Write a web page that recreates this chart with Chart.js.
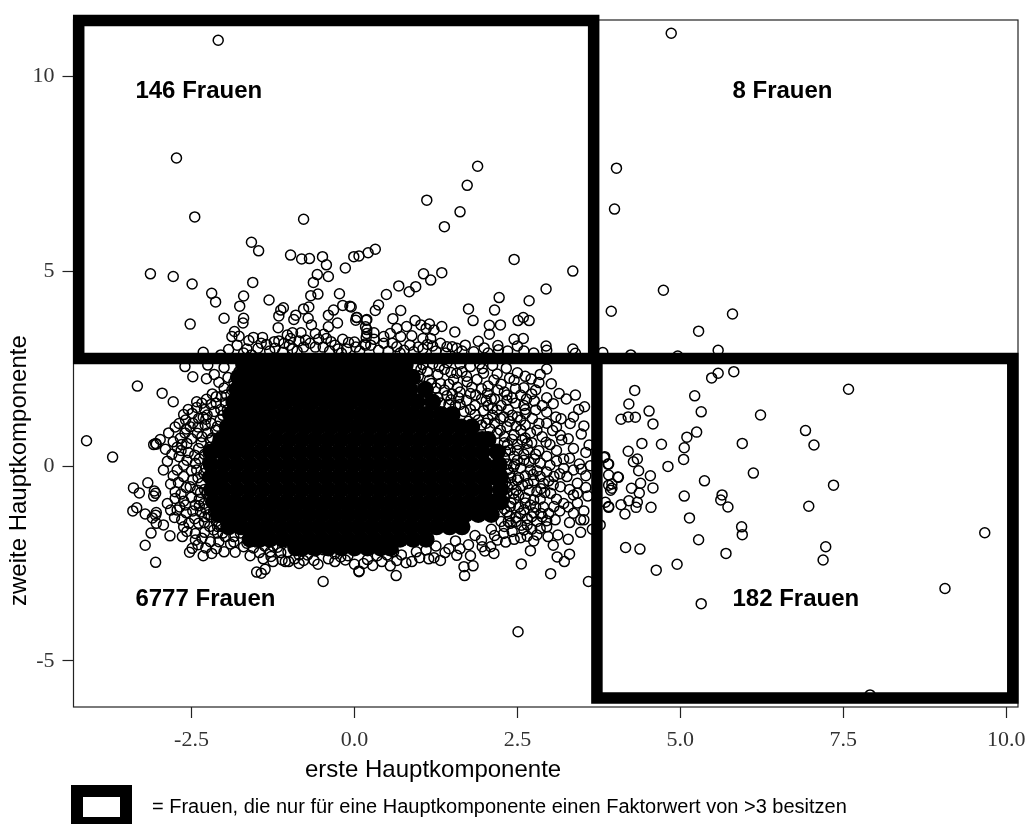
<!DOCTYPE html>
<html>
<head>
<meta charset="utf-8">
<title>Hauptkomponenten</title>
<script src="https://cdn.jsdelivr.net/npm/chart.js@4/dist/chart.umd.min.js"></script>
<style>
  html, body { margin: 0; padding: 0; background: #fff; overflow: hidden; }
  canvas { display: block; }
</style>
</head>
<body>
<canvas id="chart" width="1028" height="824"></canvas>
<script>
const xTicks = [-2.5, 0, 2.5, 5, 7.5, 10];
const yTicks = [-5, 0, 5, 10];

// sichtbare Einzelpunkte
const upperLeftPoints = [
  [-2.09,10.92],[-2.73,7.90],[-2.45,6.39],[-0.78,6.33],[-1.58,5.74],[-1.47,5.52],[-0.98,5.41],[-0.81,5.31],[-0.69,5.32],
  [-0.49,5.37],[-0.43,5.16],[-0.14,5.08],[-0.01,5.37],[0.07,5.39],[0.21,5.47],[0.32,5.56],[-3.13,4.93],[-2.78,4.86],
  [-2.49,4.67],[-2.19,4.43],[-2.13,4.21],[-1.56,4.71],[-0.57,4.91],[-0.40,4.86],[-0.63,4.71],[-1.70,4.36],[-1.76,4.10],
  [-1.31,4.26],[-0.67,4.37],[-0.56,4.41],[-0.23,4.42],[-2.52,3.64],[-2.00,3.79],[-1.70,3.79],[-1.71,3.67],[-1.84,3.45],
  [-1.88,3.32],[-1.77,3.33],[-1.55,3.30],[-1.41,3.30],[-1.43,3.15],[-1.17,3.55],[-1.16,3.85],[-1.13,4.00],[-1.09,4.06],
  [-0.90,3.87],[-0.93,3.76],[-0.78,4.03],[-0.70,4.08],[-0.71,3.79],[-0.66,3.62],[-0.82,3.42],[-0.47,3.38],[-0.43,3.27],
  [-0.36,3.19],[-0.40,3.87],[-0.32,4.00],[-0.40,3.57],[-0.26,3.67],[-0.18,4.12],[-0.07,4.10],[0.02,3.74],[0.04,3.81],
  [-0.09,3.17],[-1.03,3.36],[-1.23,3.19],[-1.16,3.21],[-1.08,3.15],[-0.98,3.27],[-0.75,3.23],[-0.85,3.21],[0.17,3.57],
  [0.18,3.74],[0.19,3.40],[0.17,3.10],[-1.93,2.99],[-2.32,2.92],[1.11,6.82],[1.62,6.52],[1.38,6.14],[1.89,7.69],[1.73,7.20],
  [2.45,5.30],[3.35,5.00],[2.94,4.54],[1.06,4.93],[1.17,4.77],[1.34,4.96],[0.68,4.62],[0.84,4.47],[0.94,4.60],[0.49,4.40],
  [0.37,4.13],[0.32,3.99],[0.71,3.99],[0.59,3.78],[-0.05,4.08],[0.03,3.81],[0.19,3.76],[0.19,3.50],[0.18,3.30],[0.16,3.13],
  [0.65,3.53],[0.55,3.40],[0.71,3.32],[0.80,3.58],[0.93,3.73],[1.02,3.62],[1.15,3.64],[1.10,3.53],[1.22,3.49],[1.34,3.58],
  [0.88,3.34],[1.05,3.27],[1.17,3.27],[1.54,3.44],[1.75,4.03],[1.82,3.73],[2.22,4.32],[2.15,4.00],[2.68,4.24],[2.59,3.81],
  [2.51,3.73],[2.68,3.73],[2.07,3.61],[2.24,3.62],[2.07,3.38],[2.59,3.27],[2.50,3.08],[1.99,3.03],[2.20,3.09],[2.21,2.98],
  [2.94,3.08],[2.95,2.97],[3.35,3.00],[3.39,2.89],[1.42,3.06],[1.50,3.06],[1.57,3.02],[1.32,3.15],[1.20,3.08],[1.83,2.93],
  [0.91,2.93],[0.45,3.15],[0.58,3.15],[0.65,3.06],[0.76,2.97],[0.37,2.97],[-0.60,3.05],[-0.25,3.00],[0.02,3.05],[-1.30,2.95],
  [-1.65,3.00],[-0.95,3.00],[1.05,3.00],[1.65,2.95],[2.60,2.95],
  [-1.80,3.10],[-1.62,3.22],[-1.48,3.02],[-1.35,3.12],[-1.22,3.02],[-1.10,2.92],[-1.00,3.10],[-0.88,2.95],[-0.78,3.05],
  [-0.68,3.15],[-0.55,3.25],[-0.48,3.05],[-0.38,2.95],[-0.30,3.10],[-0.18,3.25],[-0.12,3.00],[0.00,3.18],[0.08,2.95],
  [0.25,3.10],[0.30,3.25],[0.45,3.32],[0.52,2.95],[0.85,3.10],[0.98,3.05],[1.12,3.12],[1.25,2.95],[1.40,2.90],[1.70,3.10],
  [1.90,3.20],[2.05,2.90],[2.35,2.95],[2.45,3.25],[2.75,2.90],[-1.70,2.90],[-1.58,2.85],[-2.05,2.85],[-0.20,2.90],[0.70,2.90],
  [-0.95,3.42],[-0.60,3.40],[0.30,3.42]
];

const upperRightPoints = [
  [4.86,11.10],[4.02,7.64],[3.99,6.59],[4.74,4.51],[5.28,3.46],[5.80,3.90],[3.94,3.97],[3.81,2.91],[4.24,2.85],
  [4.96,2.82],[5.58,2.97]
];

const lowerRightPoints = [
  [5.82,2.42],[5.58,2.38],[5.48,2.26],[4.30,1.94],[7.58,1.97],[5.22,1.80],[4.21,1.59],[4.52,1.41],[5.32,1.39],[6.23,1.31],
  [4.09,1.20],[4.20,1.26],[4.31,1.25],[4.58,1.08],[6.92,0.91],[5.25,0.87],[5.10,0.74],[7.05,0.54],[5.95,0.58],[4.41,0.58],
  [4.71,0.56],[5.06,0.47],[4.20,0.38],[5.05,0.17],[4.34,0.18],[4.28,0.11],[3.89,0.05],[3.83,0.22],[4.81,-0.01],[4.36,-0.12],
  [6.12,-0.18],[4.05,-0.29],[4.54,-0.25],[3.90,-0.23],[5.37,-0.38],[7.35,-0.49],[4.39,-0.44],[4.58,-0.56],[4.25,-0.57],
  [3.95,-0.46],[3.93,-0.62],[4.37,-0.69],[5.06,-0.77],[5.64,-0.74],[5.62,-0.87],[5.73,-1.05],[6.97,-1.03],[4.21,-0.89],
  [4.34,-0.93],[4.32,-1.06],[4.09,-0.99],[3.90,-1.06],[3.85,-0.93],[4.55,-1.06],[4.15,-1.23],[5.14,-1.33],[5.94,-1.56],
  [5.95,-1.76],[9.67,-1.71],[5.28,-1.89],[7.23,-2.07],[7.19,-2.41],[4.16,-2.09],[4.38,-2.13],[5.70,-2.24],[4.95,-2.52],
  [4.63,-2.67],[9.06,-3.14],[5.32,-3.53],[7.91,-5.87],[3.77,-1.51]
];

const lowerLeftPoints = [
  [2.51,-4.25],[3.59,-2.96],[3.01,-2.76],[2.56,-2.51],[3.22,-2.45],[3.11,-2.33],[3.30,-2.26],[2.70,-2.17],[2.14,-2.24],
  [3.05,-2.03],[3.28,-1.88],[2.55,-1.84],[1.68,-2.58],[1.82,-2.56],[1.69,-2.81],[0.64,-2.81],[0.07,-2.71],[0.55,-2.56],
  [0.79,-2.48],[1.14,-2.38],[1.39,-2.22],[1.57,-2.29],[2.95,2.49],[2.50,2.39],[2.33,2.51],[2.19,2.36],[2.38,2.25],[2.71,2.23],
  [3.02,2.11],[2.83,2.14],[2.60,2.01],[2.47,1.99],[2.78,1.95],[3.14,1.86],[3.39,1.82],[2.95,1.75],[3.25,1.72],[3.53,1.52],
  [3.44,1.45],[2.64,1.72],[2.76,1.67],[2.47,1.61],[3.09,1.26],[3.17,1.21],[3.36,1.26],[3.31,1.09],[3.52,1.03],[3.48,0.82],
  [3.04,0.91],[3.16,0.79],[2.94,0.61],[3.18,0.67],[3.36,0.45],[2.83,0.39],[3.10,0.13],[3.21,0.18],[3.21,-0.06],[3.48,-0.08],
  [3.36,-0.10],[3.60,0.54],[3.62,0.01],[3.84,0.24],[3.90,0.05],[4.04,-0.28],[3.90,-0.49],[3.95,-0.57],[3.58,-0.77],[3.36,-0.74],
  [3.42,-0.70],[3.52,-1.15],[3.90,-1.04],[3.47,-1.38],[3.52,-1.38],[3.47,-1.70],[3.36,-1.21],[3.30,-1.45],[3.65,-1.62],
  [3.12,-1.77],[2.95,-1.56],[2.97,-1.81],[2.80,-1.77],[2.65,-1.51],[3.08,-1.38],[3.21,-0.96],[3.06,-1.04],[2.88,-1.30],
  [3.16,-0.53],[3.01,-0.70],[2.85,-0.27],[3.06,-0.27],[3.26,-0.27],[3.42,-0.44],[2.70,-0.10],[2.50,-0.36],[2.44,-0.70],
  [2.39,-1.04],[2.75,-0.87],[2.80,-0.66],[2.60,-1.64],[2.39,-1.47],[2.29,-1.73],[2.19,-1.90],[2.09,-2.07],[1.96,-2.07],
  [2.57,0.67],[2.39,0.41],[2.50,0.15],[2.44,-0.02],[2.65,0.58],[2.80,0.92],[2.55,0.92],[2.83,1.09],[2.73,1.22],[2.78,1.44],
  [2.50,1.26],[2.34,1.69],[2.19,1.44],[2.29,1.26],[2.34,1.01],[2.19,0.84],[2.04,1.86],[1.78,1.86],[1.73,2.16],[1.98,2.38],
  [2.14,2.21],[1.78,2.55],[1.57,2.38],[1.30,2.55],[1.05,2.60],[1.45,2.10],[1.15,2.20],[1.60,1.75],[1.85,1.55],[2.05,1.20],
  [-4.11,0.65],[-3.71,0.23],[-3.33,2.05],[-2.95,1.87],[-2.78,1.65],[-2.60,2.55],[-2.48,2.29],[-2.27,2.24],[-2.25,2.59],
  [-2.00,2.53],[-1.94,2.27],[-1.77,2.42],[-1.60,2.38],[-2.98,0.68],[-3.05,0.58],[-3.08,0.55],[-3.04,0.56],[-2.90,0.43],
  [-2.87,0.12],[-2.93,-0.10],[-3.17,-0.43],[-3.39,-0.56],[-3.30,-0.69],[-3.07,-0.64],[-3.05,-0.70],[-3.08,-0.77],[-2.82,-0.46],
  [-2.87,-0.96],[-3.34,-1.07],[-3.40,-1.15],[-3.21,-1.23],[-3.04,-1.19],[-3.10,-1.33],[-3.05,-1.26],[-3.04,-1.47],[-2.93,-1.51],
  [-3.12,-1.72],[-2.83,-1.79],[-3.21,-2.03],[-3.05,-2.47],[-2.64,-1.81],[-2.62,-1.56],[-2.54,-1.47],[-2.57,-1.68],[-2.44,-1.73],
  [-2.39,-1.47],[-2.34,-1.85],[-2.44,-1.90],[-2.49,-2.11],[-2.53,-2.21],[-2.32,-2.30],[-2.19,-2.24],[-2.21,-1.94],[-2.16,-1.64],
  [-2.08,-1.94],[-2.00,-2.20],[-1.83,-2.21],[-1.70,-2.07],[-1.60,-2.30],[-1.46,-2.22],[-1.50,-2.72],[-1.43,-2.75],[-1.37,-2.65],
  [-1.06,-2.45],[-1.01,-2.45],[-1.11,-2.41],[-0.85,-2.50],[-0.56,-2.52],[-0.48,-2.96],[0.07,-2.69],[-0.14,-2.41],[-0.21,-2.33],
  [0.14,-2.50],[-0.47,-2.15],[-0.85,-2.28],[-1.29,-2.20],[-1.13,-2.22],[-2.69,1.09],[-2.59,1.18],[-2.49,1.35],[-2.42,1.65],
  [-2.27,1.71],[-2.34,1.61],[-2.12,1.61],[-2.04,1.79],[-2.26,1.31],[-2.39,1.22],[-2.52,1.01],[-2.29,1.05],[-2.13,0.92],[-2.41,0.84],
  [-2.67,0.71],[-2.57,0.58],[-2.72,0.48],[-2.69,0.24],[-2.72,-0.10],[-2.57,0.15],[-2.62,-0.27],[-2.44,0.07],[-2.39,0.45],[-2.21,0.67],
  [-2.06,1.18],[-1.95,1.44],[-2.75,-0.66],[-2.75,-0.83],[-2.82,-1.13],[-2.72,-1.13],[-2.59,-1.00],[-2.44,-1.00],[-2.52,-0.53],
  [-2.41,-0.62],[-2.31,-0.19],[-2.26,-0.70],[-2.31,-0.96],[-1.98,-1.81],[-1.85,-1.81],[-2.20,-1.30],[-2.05,-1.55],[-1.75,-1.72],
  [-1.50,-1.95],[-1.25,-2.05],[-0.65,-2.15],[0.35,-2.30],[0.95,-2.20],[1.25,-2.05],[1.55,-1.92],[1.85,-1.78],[2.10,-1.62]
];

// Ringe am Rand des Kerns, geschaetzt: links, rechts, unten, oben rechts
const leftEdgePoints = [
  [-2.85,0.85],[-2.78,0.62],[-2.80,0.30],[-2.66,0.40],[-2.60,0.85],[-2.50,0.70],[-2.45,0.28],[-2.35,0.60],[-2.30,0.30],[-2.25,0.85],
  [-2.62,0.02],[-2.50,-0.12],[-2.40,-0.30],[-2.78,-0.25],[-2.70,-0.42],[-2.58,-0.55],[-2.48,-0.35],[-2.35,-0.45],[-2.28,-0.05],
  [-2.66,-0.72],[-2.62,-0.90],[-2.50,-0.80],[-2.38,-0.85],[-2.30,-0.60],[-2.68,-1.05],[-2.58,-1.20],[-2.48,-1.15],[-2.36,-1.18],
  [-2.28,-1.10],[-2.76,-1.32],[-2.65,-1.38],[-2.45,-1.35],[-2.30,-1.45],[-2.22,-1.55],[-2.12,-1.42],[-2.10,-1.72],[-2.30,-1.70],
  [-1.95,-1.60],[-1.90,-2.00],[-2.40,-2.02],[-2.28,-2.10],[-2.12,-2.12],[-2.40,1.00],[-2.32,1.25],[-2.20,1.10],[-2.15,1.40],
  [-2.30,1.45],[-2.05,1.45],[-1.98,1.62],[-2.18,1.85],[-2.00,2.00],[-2.08,2.15],[-1.88,1.95],[-1.85,2.15],[-2.15,2.35],[-2.55,1.45],
  [-2.62,1.32],[-2.48,1.10],[-2.75,1.00],[-2.58,0.95],[-2.42,1.50],[-1.90,1.30],[-2.00,0.80],[-2.12,0.55],[-2.18,0.30],[-2.20,1.58],
  [-2.65,0.55],[-2.55,0.35],
  [-2.38,0.18],[-2.25,0.10],[-2.42,-0.10],[-2.26,-0.28],[-2.36,-0.68],[-2.22,-0.85],[-2.24,-1.25],[-2.38,-1.02],[-2.16,-1.18],[-2.10,-1.55],
  [-2.34,0.75],[-2.18,0.72],[-2.10,1.02],[-2.28,1.20],[-2.02,1.30],[-2.12,1.78],[-1.96,1.82],[-2.22,0.48],[-2.30,-1.30],[-2.02,-1.72]
];

const rightEdgePoints = [
  [2.25,2.10],[2.45,2.20],[2.62,2.30],[2.85,2.35],[2.05,2.05],[2.30,1.90],[2.55,1.82],[2.72,1.85],[2.15,1.72],[2.42,1.75],[2.60,1.55],
  [2.88,1.55],[3.05,1.60],[2.25,1.55],[2.05,1.55],[2.95,1.38],[2.62,1.35],[2.42,1.30],[2.15,1.10],[2.38,1.15],[2.62,1.05],[2.95,1.10],
  [3.10,1.00],[2.70,0.85],[2.45,0.80],[2.30,0.75],[2.88,0.75],[3.00,0.55],[2.72,0.60],[2.50,0.55],[2.35,0.55],[2.78,0.30],[2.60,0.30],
  [2.45,0.25],[2.30,0.20],[2.95,0.25],[2.68,0.10],[2.85,0.08],[3.00,0.02],[2.55,-0.05],[2.35,-0.10],[2.80,-0.12],[2.95,-0.15],[3.15,-0.20],
  [2.62,-0.25],[2.40,-0.30],[2.75,-0.38],[2.90,-0.45],[3.05,-0.48],[2.58,-0.50],[2.35,-0.55],[2.48,-0.62],[2.68,-0.62],[2.92,-0.68],
  [3.10,-0.85],[2.85,-0.85],[2.62,-0.82],[2.45,-0.85],[2.30,-0.80],[2.70,-1.00],[2.90,-1.05],[2.52,-1.05],[2.30,-1.10],[3.15,-1.15],
  [2.98,-1.22],[2.75,-1.20],[2.55,-1.22],[2.38,-1.28],[2.80,-1.42],[2.65,-1.35],[2.48,-1.42],[2.95,-1.40],[2.25,-1.42],[2.72,-1.62],
  [2.85,-1.60],[2.42,-1.68],[2.30,-1.55],[2.15,-1.78],[2.65,-1.80],[2.45,-1.88],[2.32,-1.95],[2.75,-1.92],[3.30,-0.60],[3.28,-1.05],
  [3.42,-0.95],[3.55,-0.55],[3.55,-0.25],[3.30,0.20],[3.45,0.05],[3.10,0.40],[3.55,0.35],[3.28,0.70],
  [2.38,-0.18],[2.32,-0.42],[2.42,-0.48],[2.52,-0.30],[2.66,-0.45],[2.74,-0.22],[2.86,-0.58],[2.98,-0.38],[2.34,-0.68],[2.52,-0.75],
  [2.62,-0.95],[2.78,-1.05],[2.40,-0.95],[2.34,-1.18],[2.48,-1.32],[2.60,-1.12],[2.86,-1.22],[2.72,-1.30],[2.56,-1.52],[2.36,-1.42],
  [2.34,0.05],[2.46,0.05],[2.60,0.15],[2.76,0.18],[2.32,0.38],[2.50,0.40],[2.66,0.42],[2.30,0.60],[2.42,0.68],[2.62,0.72],
  [2.24,0.92],[2.48,1.02],[2.24,1.22],[2.55,1.18],[2.12,1.30],[2.36,1.45],[2.62,1.45],[2.12,1.48],[2.34,1.82],[2.20,1.95]
];

const bottomEdgePoints = [
  [-1.85,-1.95],[-1.65,-1.98],[-1.55,-2.10],[-1.38,-2.05],[-1.28,-2.32],[-1.18,-2.08],[-1.02,-2.20],[-0.92,-2.38],[-0.78,-2.42],
  [-0.72,-2.28],[-0.62,-2.42],[-0.40,-2.38],[-0.30,-2.25],[-0.10,-2.30],[0.00,-2.52],[0.20,-2.40],[0.28,-2.55],[0.42,-2.45],[0.50,-2.28],
  [0.65,-2.42],[0.72,-2.28],[0.88,-2.45],[1.00,-2.35],[1.10,-2.15],[1.22,-2.35],[1.32,-2.42],[1.45,-2.12],[1.62,-2.12],[1.75,-2.02],
  [1.95,-1.90],[2.00,-2.18],[-1.25,-2.45],[-1.40,-2.38],[-0.30,-2.45],[0.60,-2.20],[1.78,-2.30]
];

const upperEdgePoints = [
  [0.95,2.55],[1.20,2.62],[1.42,2.65],[1.62,2.62],[1.92,2.62],[2.12,2.58],[0.98,2.30],[1.12,2.42],[1.28,2.35],[1.38,2.48],[1.52,2.22],
  [1.65,2.42],[1.88,2.22],[1.05,2.05],[1.25,2.00],[1.38,1.95],[1.58,2.02],[1.80,2.02],[1.95,1.98],[1.28,1.75],[1.42,1.80],[1.55,1.55],
  [1.72,1.68],[1.95,1.72],[1.68,1.40],[1.85,1.32],[1.98,1.42],[1.75,1.15],[1.95,1.05],[2.08,0.95],[2.10,1.72],[1.50,1.85],
  [1.02,2.48],[1.18,2.12],[1.32,2.12],[1.48,2.40],[1.32,1.62],[1.45,1.58],[1.62,1.90],[1.62,1.58],[1.78,1.45],[1.90,1.18],
  [1.86,1.82],[2.02,1.68],[1.72,2.30],[1.96,2.50],[1.48,1.70],[2.02,1.10]
];

// dichter Kern: Reihen (y) und Spalten (x), geschaetzt
const coreRowY = [2.60, 2.28, 1.96, 1.64, 1.32, 1.00, 0.68, 0.36, 0.04, -0.28, -0.60, -0.92, -1.24, -1.56, -1.88, -2.10];
const coreRowX = [
  [-1.70,-1.56,-1.35,-1.15,-0.96,-0.76,-0.55,-0.35,-0.16,0.05,0.25,0.44,0.64,0.78],
  [-1.78,-1.62,-1.46,-1.27,-1.06,-0.86,-0.66,-0.45,-0.26,-0.06,0.15,0.35,0.54,0.75,0.89],
  [-1.80,-1.68,-1.55,-1.34,-1.15,-0.95,-0.74,-0.55,-0.35,-0.15,0.06,0.25,0.45,0.66,0.85,1.09],
  [-1.85,-1.70,-1.55,-1.40,-1.25,-1.05,-0.84,-0.65,-0.44,-0.25,-0.05,0.16,0.35,0.55,0.75,0.96,1.20],
  [-1.90,-1.74,-1.55,-1.40,-1.31,-1.10,-0.90,-0.70,-0.50,-0.30,-0.11,0.10,0.30,0.50,0.70,0.89,1.10,1.32,1.50],
  [-1.95,-1.80,-1.66,-1.50,-1.36,-1.16,-0.96,-0.76,-0.56,-0.36,-0.16,0.04,0.24,0.44,0.64,0.84,1.04,1.24,1.44,1.64,1.80],
  [-2.05,-1.90,-1.76,-1.60,-1.40,-1.20,-1.00,-0.80,-0.60,-0.40,-0.20,0.00,0.20,0.40,0.60,0.80,1.00,1.20,1.40,1.60,1.80,1.96,2.05],
  [-2.20,-2.02,-1.84,-1.64,-1.44,-1.24,-1.04,-0.84,-0.64,-0.44,-0.24,-0.04,0.16,0.36,0.56,0.76,0.96,1.16,1.36,1.56,1.76,1.96,2.19],
  [-2.20,-2.00,-1.80,-1.60,-1.40,-1.20,-1.00,-0.80,-0.60,-0.40,-0.20,0.00,0.20,0.40,0.60,0.80,1.00,1.20,1.40,1.60,1.80,2.00,2.22],
  [-2.20,-2.04,-1.84,-1.64,-1.44,-1.24,-1.04,-0.84,-0.64,-0.44,-0.24,-0.04,0.16,0.36,0.56,0.76,0.96,1.16,1.36,1.56,1.76,1.96,2.14,2.24],
  [-2.19,-2.00,-1.80,-1.60,-1.40,-1.20,-1.00,-0.80,-0.60,-0.40,-0.20,0.00,0.20,0.40,0.60,0.80,1.00,1.20,1.40,1.60,1.80,2.00,2.24],
  [-2.16,-1.98,-1.84,-1.64,-1.44,-1.24,-1.04,-0.84,-0.64,-0.44,-0.24,-0.04,0.16,0.36,0.56,0.76,0.96,1.16,1.36,1.56,1.76,1.96,2.14,2.24],
  [-2.09,-1.90,-1.70,-1.50,-1.30,-1.10,-0.90,-0.70,-0.50,-0.30,-0.10,0.10,0.30,0.50,0.70,0.90,1.10,1.30,1.50,1.70,1.90,2.10],
  [-1.93,-1.74,-1.54,-1.34,-1.14,-0.94,-0.74,-0.54,-0.34,-0.14,0.06,0.26,0.46,0.66,0.86,1.06,1.26,1.46,1.65],
  [-1.60,-1.45,-1.30,-1.10,-0.90,-0.70,-0.50,-0.30,-0.10,0.10,0.30,0.50,0.70,0.90,1.10],
  [-0.90,-0.80,-0.60,-0.40,-0.20,0.00,0.20,0.40,0.55]
];

// dicke Rahmen, in Achsenwerten
const boxTopLeft = [[-4.23,11.43],[3.67,11.43],[3.67,2.76],[-4.23,2.76],[-4.23,11.43]];
const boxBottomRight = [[3.72,2.76],[10.10,2.76],[10.10,-5.95],[3.72,-5.95],[3.72,2.76]];

const labels = [
  { text: '146 Frauen', x: -3.36, y: 9.44 },
  { text: '8 Frauen', x: 5.80, y: 9.44 },
  { text: '6777 Frauen', x: -3.36, y: -3.59 },
  { text: '182 Frauen', x: 5.80, y: -3.59 }
];
const xTitle = 'erste Hauptkomponente';
const yTitle = 'zweite Hauptkomponente';
const legendText = '= Frauen, die nur für eine Hauptkomponente einen Faktorwert von >3 besitzen';

const corePoints = coreRowY.flatMap((y, i) => coreRowX[i].map(x => ({ x, y })));
const toPoints = list => list.map(p => ({ x: p[0], y: p[1] }));
const ringPoints = [
  ...upperLeftPoints, ...upperRightPoints, ...lowerRightPoints, ...lowerLeftPoints,
  ...leftEdgePoints, ...rightEdgePoints, ...bottomEdgePoints, ...upperEdgePoints
];

const boxDataset = corners => ({
  type: 'line',
  data: toPoints(corners),
  borderColor: '#000',
  borderWidth: 11.5,
  borderJoinStyle: 'miter',
  borderCapStyle: 'square',
  pointRadius: 0,
  tension: 0,
  fill: false,
  clip: false,
  order: 0
});

const framePlugin = {
  id: 'frame',
  beforeDatasetsDraw(chart) {
    const { ctx, chartArea: a } = chart;
    ctx.save();
    ctx.strokeStyle = '#222';
    ctx.lineWidth = 1.2;
    ctx.strokeRect(a.left, a.top, a.right - a.left, a.bottom - a.top);
    ctx.restore();
  }
};

const textPlugin = {
  id: 'texts',
  afterDraw(chart) {
    const { ctx, scales } = chart;
    ctx.save();
    ctx.fillStyle = '#000';
    ctx.textBaseline = 'alphabetic';
    ctx.font = 'bold 24px "Liberation Sans"';
    labels.forEach(l => ctx.fillText(l.text, scales.x.getPixelForValue(l.x), scales.y.getPixelForValue(l.y)));

    // Achsentitel sitzen im Original nicht mittig
    ctx.font = '24px "Liberation Sans"';
    ctx.fillText(xTitle, 305, 777);
    ctx.save();
    ctx.translate(26, 606);
    ctx.rotate(-Math.PI / 2);
    ctx.fillText(yTitle, 0, 0);
    ctx.restore();

    // Legende unten
    ctx.fillRect(71, 785, 61, 39);
    ctx.fillStyle = '#fff';
    ctx.fillRect(83, 797, 37, 20);
    ctx.fillStyle = '#000';
    ctx.font = '20px "Liberation Sans"';
    ctx.fillText(legendText, 152, 813);
    ctx.restore();
  }
};

new Chart(document.getElementById('chart'), {
  data: {
    datasets: [
      boxDataset(boxTopLeft),
      boxDataset(boxBottomRight),
      {
        type: 'scatter',
        data: toPoints(ringPoints),
        pointRadius: 5,
        pointBorderWidth: 1.5,
        pointBorderColor: '#000',
        pointBackgroundColor: 'rgba(0,0,0,0)',
        order: 1
      },
      {
        type: 'scatter',
        data: corePoints,
        pointRadius: 8.5,
        pointBorderWidth: 0,
        pointBackgroundColor: '#000',
        order: 2
      }
    ]
  },
  plugins: [framePlugin, textPlugin],
  options: {
    responsive: false,
    animation: false,
    events: [],
    layout: { padding: { top: 20, right: 10, left: 0, bottom: 0 } },
    plugins: { legend: { display: false }, tooltip: { enabled: false } },
    scales: {
      x: {
        type: 'linear',
        min: -4.31,
        max: 10.18,
        afterFit: s => { s.height = 117; s.paddingLeft = 0; s.paddingRight = 0; },
        afterBuildTicks: s => { s.ticks = xTicks.map(value => ({ value })); },
        border: { display: false },
        grid: { drawOnChartArea: false, tickLength: 11, tickColor: '#222', tickWidth: 1.2 },
        ticks: {
          color: '#333',
          padding: 9,
          maxRotation: 0,
          font: { family: '"Liberation Serif"', size: 22 },
          callback: v => v.toFixed(1)
        }
      },
      y: {
        type: 'linear',
        min: -6.18,
        max: 11.44,
        afterFit: s => { s.width = 73.5; s.paddingTop = 0; s.paddingBottom = 0; },
        afterBuildTicks: s => { s.ticks = yTicks.map(value => ({ value })); },
        border: { display: false },
        grid: { drawOnChartArea: false, tickLength: 11, tickColor: '#222', tickWidth: 1.2 },
        ticks: {
          color: '#333',
          padding: 8,
          font: { family: '"Liberation Serif"', size: 22 },
          callback: v => String(v)
        }
      }
    }
  }
});
</script>
</body>
</html>
